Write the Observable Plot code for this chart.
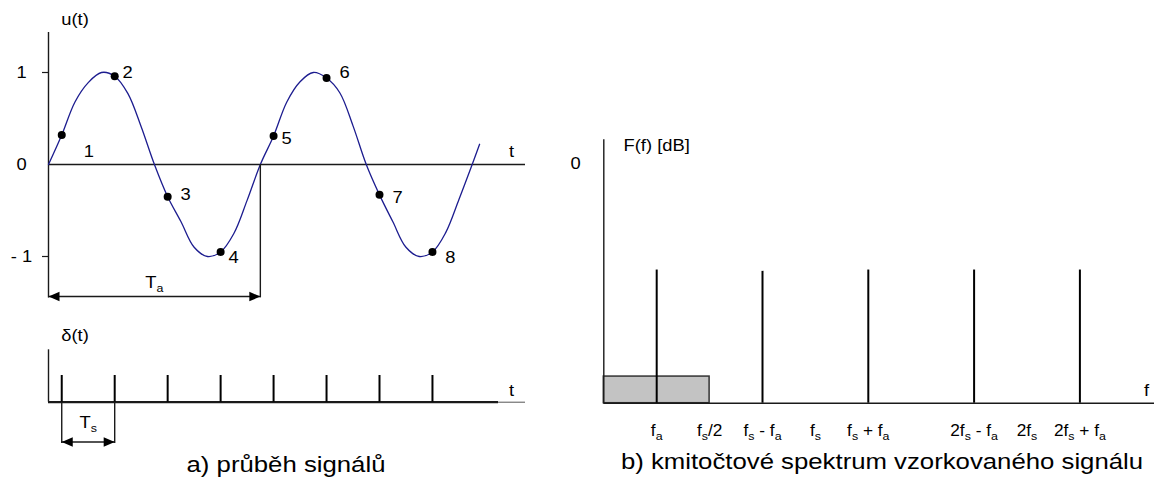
<!DOCTYPE html>
<html><head><meta charset="utf-8">
<script src="https://cdn.jsdelivr.net/npm/d3@7"></script>
<script src="https://cdn.jsdelivr.net/npm/@observablehq/plot@0.6"></script>
<style>
body{margin:0;background:#fff;}
#wrap{position:relative;width:1154px;height:482px;overflow:hidden;font-family:"Liberation Sans",Arial,sans-serif;background:#fff;}
.panel{position:absolute;}
.cap{position:absolute;font-size:22px;line-height:22px;white-space:nowrap;color:#000;transform:translateX(-50%) scaleX(1.17);}
</style></head>
<body><div id="wrap"></div>
<script>
// ---------- data ----------
// a) analog signal u(t), time in units of the sampling period Ts
const curveT = [0,0.25,0.5,0.75,1,1.25,1.5,1.75,2,2.25,2.5,2.75,3,3.25,3.5,3.75,4,4.25,4.5,4.75,5,5.25,5.5,5.75,6,6.25,6.5,6.75,7,7.25,7.5,7.75,8,8.14];
const curveU = [0,0.32,0.68,0.89,1.0,0.96,0.77,0.41,0,-0.35,-0.62,-0.9,-1.0,-0.95,-0.75,-0.39,0,0.31,0.68,0.9,1.0,0.94,0.78,0.42,0,-0.33,-0.62,-0.9,-1.0,-0.95,-0.74,-0.38,0,0.22];
const sampleT = [0.25,1.25,2.25,3.25,4.25,5.25,6.25,7.25];
const sampleU = [0.32,0.96,-0.35,-0.95,0.31,0.94,-0.33,-0.95];
const sampleLabels = ["1","2","3","4","5","6","7","8"];
const uTicks = [1,0,-1];
const uTickLabels = ["1","0","- 1"];
const periodTa = 4;           // Ta = 4 Ts
const deltaAmp = 1;
// b) spectrum, frequency in units of fa (fs = 4 fa)
const specTickF = [1,2,3,4,5,7,8,9];
const specTickLabels = ["f_a","f_s/2","f_s - f_a","f_s","f_s + f_a","2f_s - f_a","2f_s","2f_s + f_a"];
const lineF = [1,3,5,7,9];
const lineDB = [-40,-40.5,-40,-40,-40];
const bandF = [0,2];
const bandDB = -80;
const floorDB = -90;

// ---------- helpers ----------
const FONT = "Liberation Sans, Arial, sans-serif";
const INK = "#1a1a1a";
const TS = 52.96;
const SX = 1.08;
const headRight = {draw(ctx){ctx.moveTo(0,0);ctx.lineTo(-11,-4.8);ctx.lineTo(-11,4.8);ctx.closePath();}};
const headLeft  = {draw(ctx){ctx.moveTo(0,0);ctx.lineTo(11,-4.8);ctx.lineTo(11,4.8);ctx.closePath();}};

function fixText(svg, sx){
  svg.querySelectorAll("text").forEach(t=>{
    const s = t.textContent;
    if (s.includes("_")) {
      while (t.firstChild) t.removeChild(t.firstChild);
      const parts = s.split(/_(.)/);
      let shifted = false;
      parts.forEach((p,i)=>{
        if (!p) return;
        const ts = document.createElementNS("http://www.w3.org/2000/svg","tspan");
        ts.textContent = p;
        if (i % 2 === 1) { ts.setAttribute("dy", "4"); ts.setAttribute("font-size", "11.5px"); shifted = true; }
        else if (shifted) { ts.setAttribute("dy", "-4"); shifted = false; }
        t.appendChild(ts);
      });
    }
    let tr = t.getAttribute("transform") || "";
    const x = t.getAttribute("x");
    if (x != null && !isNaN(+x)) { tr += ` translate(${x},0)`; t.removeAttribute("x"); }
    t.setAttribute("transform", tr + ` scale(${sx},1)`);
  });
  return svg;
}
function place(el, left, top){ el.classList.add("panel"); el.style.left = left+"px"; el.style.top = top+"px"; document.getElementById("wrap").appendChild(el); }
const baseStyle = {background:"transparent", overflow:"visible", fontFamily: FONT, fontSize:"17px", color:"#000"};

// ---------- panel a: u(t) ----------
const curve = curveT.map((t,i)=>({t, u: curveU[i]}));
const samples = sampleT.map((t,i)=>({t, u: sampleU[i], label: sampleLabels[i]}));
const labelOffsets = [[27,22],[13,2],[18,3],[13,11],[13,8],[18,0],[18,8],[18,11]];
const ticks = uTicks.map((v,i)=>({v, label: uTickLabels[i]}));
const yTop = 1.435, yBot = -1.45, arrowY = -1.435, xEnd = (525-48)/TS;

const plotA = Plot.plot({
  width: 540, height: 310, margin: 0,
  x: {domain:[0,8], range:[48, 48+8*TS], axis: null},
  y: {domain:[-1,1], range:[256,72], axis: null},
  style: baseStyle,
  marks: [
    Plot.ruleX([0], {y1: yBot, y2: yTop, stroke: INK, strokeWidth: 1.4}),
    Plot.ruleY([0], {x1: 0, x2: xEnd, stroke: INK, strokeWidth: 1.5}),
    Plot.ruleY(uTicks.filter(v=>v!==0), {x1: -6/TS, x2: 0, stroke: INK, strokeWidth: 1.2}),
    Plot.text(ticks, {x: 0, y: "v", text: "label", dx: -27, textAnchor: "middle", lineAnchor: "middle", fill: "#000"}),
    Plot.line(curve, {x: "t", y: "u", curve: "catmull-rom", stroke: "#1c1c8f", strokeWidth: 1.3}),
    Plot.dot(samples, {x: "t", y: "u", r: 4, fill: "#000", stroke: "none"}),
    ...samples.map((s,i)=>Plot.text([s], {x: "t", y: "u", text: "label", dx: labelOffsets[i][0], dy: labelOffsets[i][1], textAnchor: "middle", lineAnchor: "bottom", fill: "#000"})),
    Plot.text(["u(t)"], {x: 0, y: yTop, text: d=>d, dx: 26.5, dy: -7, textAnchor: "middle", lineAnchor: "bottom", fill: "#000"}),
    Plot.text(["t"], {x: xEnd, y: 0, text: d=>d, dx: -14, dy: -8, textAnchor: "middle", lineAnchor: "bottom", fill: "#000"}),
    // Ta dimension
    Plot.ruleX([periodTa], {y1: 0, y2: yBot, stroke: INK, strokeWidth: 1.4}),
    Plot.ruleY([arrowY], {x1: 0, x2: periodTa, stroke: INK, strokeWidth: 1.5}),
    Plot.dot([0], {x: d=>d, y: arrowY, symbol: headLeft, fill: "#000", stroke: "none"}),
    Plot.dot([periodTa], {x: d=>d, y: arrowY, symbol: headRight, fill: "#000", stroke: "none"}),
    Plot.text(["T_a"], {x: periodTa/2, y: arrowY, text: d=>d, dy: -9, textAnchor: "middle", lineAnchor: "bottom", fill: "#000"})
  ]
});
place(fixText(plotA, SX), 0, 0);

// ---------- panel a: delta(t) ----------
const dTop = (401.7-349.3)/26.7, dArrow = -(441.5-401.7)/26.7, dBot = -(443-401.7)/26.7;
const plotB = Plot.plot({
  width: 540, height: 150, margin: 0,
  x: {domain:[0,8], range:[48, 48+8*TS], axis: null},
  y: {domain:[0,1], range:[91.7, 65], axis: null},
  style: baseStyle,
  marks: [
    Plot.ruleX([0], {y1: 0, y2: dTop, stroke: INK, strokeWidth: 1.4}),
    Plot.ruleY([0], {x1: 0, x2: (498-48)/TS, stroke: INK, strokeWidth: 2.2}),
    Plot.ruleY([0], {x1: (498-48)/TS, x2: xEnd, stroke: "#555", strokeWidth: 1}),
    Plot.ruleX(sampleT, {y1: 0, y2: deltaAmp, stroke: "#000", strokeWidth: 2}),
    Plot.text(["δ(t)"], {x: 0, y: dTop, text: d=>d, dx: 26.5, dy: -9, textAnchor: "middle", lineAnchor: "bottom", fill: "#000"}),
    Plot.text(["t"], {x: xEnd, y: 0, text: d=>d, dx: -14, dy: -6.5, textAnchor: "middle", lineAnchor: "bottom", fill: "#000"}),
    Plot.ruleX(sampleT.slice(0,2), {y1: 0, y2: dBot, stroke: INK, strokeWidth: 1.4}),
    Plot.ruleY([dArrow], {x1: sampleT[0], x2: sampleT[1], stroke: INK, strokeWidth: 1.5}),
    Plot.dot([sampleT[0]], {x: d=>d, y: dArrow, symbol: headLeft, fill: "#000", stroke: "none"}),
    Plot.dot([sampleT[1]], {x: d=>d, y: dArrow, symbol: headRight, fill: "#000", stroke: "none"}),
    Plot.text(["T_s"], {x: (sampleT[0]+sampleT[1])/2, y: dArrow, text: d=>d, dy: -14.5, textAnchor: "middle", lineAnchor: "bottom", fill: "#000"})
  ]
});
place(fixText(plotB, SX), 0, 310);

// ---------- panel b: spectrum ----------
const FU = 52.9;
const fTop = 8.9, fEnd = (1154-603.3)/FU;
const lines = lineF.map((f,i)=>({f, db: lineDB[i]}));
const tickLabs = specTickF.map((f,i)=>({f, label: specTickLabels[i]}));
const plotC = Plot.plot({
  width: 594, height: 340, margin: 0,
  x: {domain:[0,9], range:[43.3, 43.3+9*FU], axis: null},
  y: {domain:[floorDB,0], range:[282.7, 43], axis: null},
  style: baseStyle,
  marks: [
    Plot.rect([{f0: bandF[0], f1: bandF[1], db: bandDB}], {x1: "f0", x2: "f1", y1: floorDB, y2: "db", fill: "#c3c3c3", stroke: "#333", strokeWidth: 1.5}),
    Plot.ruleX([0], {y1: floorDB, y2: fTop, stroke: INK, strokeWidth: 1.4}),
    Plot.ruleY([floorDB], {x1: 0, x2: fEnd, stroke: INK, strokeWidth: 1.5}),
    Plot.ruleX(lines, {x: "f", y1: floorDB, y2: "db", stroke: "#000", strokeWidth: 2}),
    Plot.text(["0"], {x: 0, y: 0, text: d=>d, dx: -28.3, textAnchor: "middle", lineAnchor: "middle", fill: "#000"}),
    Plot.text(["F(f) [dB]"], {x: 0, y: 0, text: d=>d, dx: 19.7, dy: -13, textAnchor: "start", lineAnchor: "bottom", fill: "#000"}),
    Plot.text(["f"], {x: fEnd, y: floorDB, text: d=>d, dx: -8, dy: -7.7, textAnchor: "middle", lineAnchor: "bottom", fill: "#000"}),
    Plot.text(tickLabs, {x: "f", y: floorDB, text: "label", dy: 33, textAnchor: "middle", lineAnchor: "bottom", fill: "#000", fontSize: 16})
  ]
});
place(fixText(plotC, SX), 560, 120);

// ---------- captions ----------
const capA = document.createElement("div");
capA.className = "cap"; capA.textContent = "a) průběh signálů";
capA.style.left = "286px"; capA.style.top = "454px";
const capB = document.createElement("div");
capB.className = "cap"; capB.textContent = "b) kmitočtové spektrum vzorkovaného signálu";
capB.style.left = "882px"; capB.style.top = "451px";
document.getElementById("wrap").append(capA, capB);
</script></body></html>
